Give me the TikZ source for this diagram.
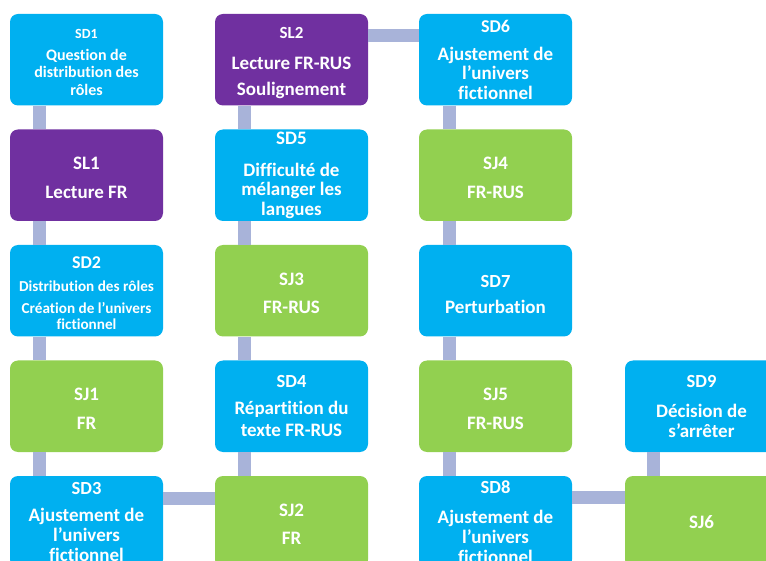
\documentclass[tikz,border=0pt]{standalone}
\usepackage{fontspec}
\setmainfont{Carlito}[Ligatures={NoCommon}]
\definecolor{sdblue}{HTML}{00B0F0}
\definecolor{slpurple}{HTML}{7030A0}
\definecolor{sjgreen}{HTML}{92D050}
\definecolor{connc}{HTML}{A8B3D9}
\tikzset{
  box/.style={rounded corners=8pt, minimum width=153pt, minimum height=91.5pt, inner sep=0pt, align=center, text=white, font=\bfseries\fontsize{19}{20}\selectfont},
  bluebox/.style={box, fill=sdblue},
  purplebox/.style={box, fill=slpurple},
  greenbox/.style={box, fill=sjgreen},
  conn/.style={draw=connc, line width=13pt},
}
\newcommand{\ttl}[2]{{\fontsize{#1}{20}\selectfont #2}}
\newcommand{\dn}[1]{\rule{0pt}{#1pt}}
\begin{document}
\begin{tikzpicture}[x=1pt,y=-1pt]
\clip (0,0) rectangle (766,561);
\fill[white] (0,0) rectangle (766,561);
% column 1
\node[bluebox, font=\bfseries\fontsize{16}{17.5}\selectfont] (SD1) at (86.5,59.75) {\dn{14}\ttl{14}{SD1}\\[4.5pt] Question de\\ distribution des\\ rôles};
\node[purplebox] (SL1) at (86.5,175.25) {\dn{17.5}SL1\\[8.5pt] Lecture FR};
\node[bluebox, font=\bfseries\fontsize{15.2}{15.6}\selectfont] (SD2) at (86.5,290.75) {\dn{16}\ttl{18}{SD2}\\[7.8pt] Distribution des rôles\\[6.4pt] Création de l’univers\\ fictionnel};
\node[greenbox] (SJ1) at (86.5,406.25) {\dn{17.5}SJ1\\[8.5pt] FR};
\node[bluebox] (SD3) at (86.5,521.75) {\ttl{18.5}{SD3}\\[7pt] Ajustement de\\ l’univers\\ fictionnel};
% column 2
\node[purplebox] (SL2) at (291.5,59.75) {\dn{18}\ttl{17}{SL2}\\[10.6pt] Lecture FR-RUS\\[6.7pt] Soulignement};
\node[bluebox, font=\bfseries\fontsize{19}{19.5}\selectfont] (SD5) at (291.5,175.25) {SD5\\[12pt] Difficulté de\\ mélanger les\\ langues};
\node[greenbox] (SJ3) at (291.5,290.75) {\dn{17.5}SJ3\\[8.5pt] FR-RUS};
\node[bluebox, font=\bfseries\fontsize{19}{22}\selectfont] (SD4) at (291.5,406.25) {\ttl{18.5}{SD4}\\[4.5pt] Répartition du\\ texte FR-RUS};
\node[greenbox] (SJ2) at (291.5,521.75) {\dn{17.5}SJ2\\[8.5pt] FR};
% column 3
\node[bluebox, font=\bfseries\fontsize{19}{19.5}\selectfont] (SD6) at (495.5,59.75) {\ttl{18}{SD6}\\[8.5pt] Ajustement de\\ l’univers\\ fictionnel};
\node[greenbox] (SJ4) at (495.5,175.25) {\dn{17.5}SJ4\\[8.5pt] FR-RUS};
\node[bluebox] (SD7) at (495.5,290.75) {\dn{20.5}\ttl{18.5}{SD7}\\[6pt] Perturbation};
\node[greenbox] (SJ5) at (495.5,406.25) {\dn{17.5}SJ5\\[8.5pt] FR-RUS};
\node[bluebox] (SD8) at (495.5,521.75) {\ttl{18.5}{SD8}\\[10pt] Ajustement de\\ l’univers\\ fictionnel};
% column 4
\node[bluebox] (SD9) at (701.5,406.25) {\ttl{18.5}{SD9}\\[10pt] Décision de\\ s’arrêter};
\node[greenbox] (SJ6) at (701.5,521.75) {SJ6};
% connectors
\draw[conn] ([xshift=30pt]SD1.south west) -- ([xshift=30pt]SL1.north west);
\draw[conn] ([xshift=30pt]SL1.south west) -- ([xshift=30pt]SD2.north west);
\draw[conn] ([xshift=30pt]SD2.south west) -- ([xshift=30pt]SJ1.north west);
\draw[conn] ([xshift=30pt]SJ1.south west) -- ([xshift=30pt]SD3.north west);
\draw[conn] ([yshift=-22.5pt]SD3.north east) -- ([yshift=-22.5pt]SJ2.north west);
\draw[conn] ([xshift=30pt]SJ2.north west) -- ([xshift=30pt]SD4.south west);
\draw[conn] ([xshift=30pt]SD4.north west) -- ([xshift=30pt]SJ3.south west);
\draw[conn] ([xshift=30pt]SJ3.north west) -- ([xshift=30pt]SD5.south west);
\draw[conn] ([xshift=30pt]SD5.north west) -- ([xshift=30pt]SL2.south west);
\draw[conn] ([yshift=-22pt]SL2.north east) -- ([yshift=-22pt]SD6.north west);
\draw[conn] ([xshift=31pt]SD6.south west) -- ([xshift=31pt]SJ4.north west);
\draw[conn] ([xshift=31pt]SJ4.south west) -- ([xshift=31pt]SD7.north west);
\draw[conn] ([xshift=31pt]SD7.south west) -- ([xshift=31pt]SJ5.north west);
\draw[conn] ([xshift=31pt]SJ5.south west) -- ([xshift=31pt]SD8.north west);
\draw[conn] ([yshift=-21.5pt]SD8.north east) -- ([yshift=-21.5pt]SJ6.north west);
\draw[conn] ([xshift=29pt]SJ6.north west) -- ([xshift=29pt]SD9.south west);
\end{tikzpicture}
\end{document}
